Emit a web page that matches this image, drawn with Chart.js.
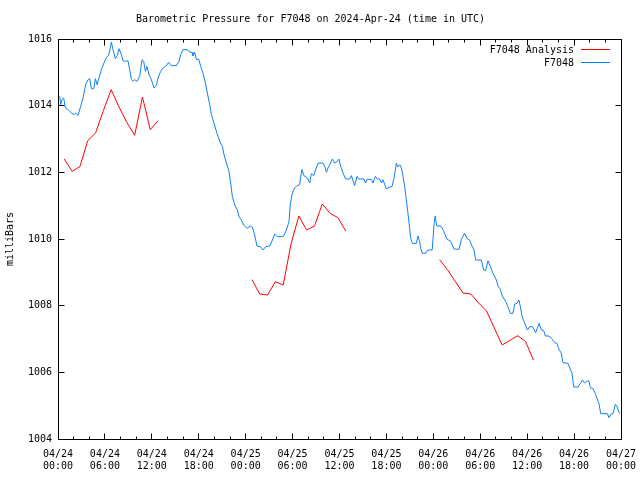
<!DOCTYPE html>
<html>
<head>
<meta charset="utf-8">
<script src="https://cdn.jsdelivr.net/npm/chart.js@4/dist/chart.umd.min.js"></script>
<style>
  html, body { margin: 0; padding: 0; background: #fff; }
  #wrap { width: 640px; height: 480px; }
</style>
</head>
<body>
<div id="wrap"><canvas id="pressureChart" width="640" height="480"></canvas></div>
<script>
// hours since 04/24 00:00 UTC
var blueHours = [0.22,0.35,0.51,0.73,0.95,1.28,1.71,2.05,2.26,2.56,2.90,3.20,3.54,3.84,4.05,4.27,4.57,4.78,4.99,5.24,
  5.55,5.88,6.19,6.48,6.70,6.83,7.03,7.34,7.60,7.80,8.11,8.31,8.62,8.95,9.17,9.39,9.59,9.81,10.10,10.45,
  10.74,10.96,11.18,11.38,11.64,11.94,12.28,12.58,12.79,13.13,13.43,13.77,14.16,14.50,15.14,15.47,15.69,15.98,16.50,16.84,
  17.14,17.26,17.48,17.70,17.99,18.25,18.54,18.85,19.10,19.40,19.62,19.82,20.13,20.46,20.77,21.02,21.23,21.53,21.87,22.08,
  22.30,22.60,22.94,23.15,23.45,23.75,24.17,24.60,24.86,25.15,25.45,25.88,26.21,26.56,27.07,27.42,27.71,28.06,28.57,28.86,
  29.21,29.54,29.72,29.97,30.27,30.56,30.91,31.04,31.20,31.46,31.89,32.19,32.40,32.70,32.95,33.25,33.89,34.11,34.32,34.53,
  34.75,35.09,35.38,35.73,35.93,36.15,36.45,36.79,37.30,37.52,37.94,38.24,38.45,39.13,39.31,39.56,40.08,40.28,40.59,40.84,
  41.14,41.36,41.56,41.99,42.42,42.71,42.97,43.15,43.27,43.48,43.70,43.91,44.12,44.34,44.55,44.76,44.97,45.10,45.32,45.83,
  46.04,46.26,46.38,46.60,47.02,47.31,47.85,47.98,48.11,48.24,48.43,49.00,49.32,49.71,50.22,50.65,51.29,51.59,52.00,52.30,
  52.64,52.99,53.20,53.41,54.14,54.44,54.69,54.99,55.29,55.63,56.06,56.27,56.57,56.83,57.25,57.54,57.85,58.18,58.40,58.70,
  58.95,59.13,59.34,59.69,60.03,60.32,60.67,61.09,61.52,61.82,62.12,62.33,62.79,63.10,63.52,63.81,64.07,64.37,64.58,65.22,
  65.56,65.73,65.95,66.50,66.80,67.06,67.35,67.65,67.90,68.08,68.41,68.71,68.93,69.18,69.40,70.26,70.47,70.68,70.97,71.28,
  71.48,71.73,71.86];
var bluePressure = [1014.28,1014.03,1014.18,1014.23,1013.93,1013.88,1013.78,1013.73,1013.78,1013.71,1013.98,1014.23,1014.63,1014.78,1014.81,1014.51,1014.51,1014.81,1014.63,1014.83,
  1015.08,1015.28,1015.45,1015.51,1015.75,1015.91,1015.68,1015.41,1015.51,1015.71,1015.53,1015.35,1015.33,1015.35,1015.08,1014.78,1014.73,1014.78,1014.73,1014.88,
  1015.38,1015.33,1015.03,1015.18,1014.93,1014.78,1014.53,1014.61,1014.83,1015.03,1015.13,1015.18,1015.30,1015.20,1015.20,1015.33,1015.53,1015.68,1015.68,1015.61,
  1015.60,1015.50,1015.60,1015.38,1015.40,1015.18,1014.98,1014.68,1014.38,1014.03,1013.73,1013.58,1013.33,1013.08,1012.88,1012.78,1012.53,1012.28,1012.03,1011.68,
  1011.27,1011.02,1010.87,1010.67,1010.57,1010.42,1010.32,1010.39,1010.35,1010.12,1009.79,1009.77,1009.67,1009.77,1009.79,1009.97,1010.15,1010.07,1010.07,1010.09,
  1010.27,1010.52,1011.07,1011.38,1011.53,1011.60,1011.63,1011.88,1012.08,1011.90,1011.83,1011.68,1011.96,1011.90,1012.08,1012.28,1012.28,1012.18,1012.00,1012.13,
  1012.23,1012.40,1012.28,1012.33,1012.40,1012.18,1011.98,1011.80,1011.80,1011.90,1011.60,1011.88,1011.80,1011.80,1011.68,1011.80,1011.78,1011.68,1011.88,1011.80,
  1011.80,1011.68,1011.78,1011.50,1011.56,1011.57,1011.83,1012.08,1012.28,1012.16,1012.23,1012.13,1011.88,1011.57,1011.17,1010.77,1010.32,1010.02,1009.87,1009.87,
  1010.09,1009.92,1009.72,1009.57,1009.57,1009.67,1009.67,1010.07,1010.49,1010.69,1010.40,1010.38,1010.25,1010.00,1009.93,1009.70,1009.69,1009.99,1010.17,1010.02,
  1009.97,1009.77,1009.67,1009.37,1009.37,1009.07,1009.05,1009.35,1009.17,1008.97,1008.77,1008.59,1008.49,1008.29,1008.12,1007.97,1007.77,1007.77,1008.05,1008.07,
  1008.17,1007.97,1007.69,1007.47,1007.27,1007.37,1007.37,1007.19,1007.47,1007.27,1007.25,1007.09,1007.09,1007.02,1006.89,1006.87,1006.69,1006.57,1006.29,1006.27,
  1006.07,1005.98,1005.56,1005.56,1005.67,1005.77,1005.68,1005.74,1005.74,1005.54,1005.51,1005.37,1005.22,1005.07,1004.76,1004.76,1004.64,1004.74,1004.76,1005.04,
  1004.98,1004.81,1004.76];

// analysis runs, null marks the gap between runs
var redHours = [0.8,1.8,2.8,3.8,4.8,5.8,6.8,7.8,8.8,9.8,10.8,11.8,12.8, 18,
  24.8,25.8,26.8,27.8,28.8,29.8,30.8,31.8,32.8,33.8,34.8,35.8,36.8, 42,
  48.8,49.8,50.8,51.8,52.8,53.8,54.8,55.8,56.8,57.8,58.8,59.8,60.8];
var redPressure = [1012.40,1012.03,1012.17,1012.95,1013.18,1013.85,1014.48,1013.96,1013.50,1013.11,1014.26,1013.28,1013.55, null,
  1008.78,1008.35,1008.32,1008.72,1008.62,1009.85,1010.69,1010.27,1010.39,1011.05,1010.77,1010.64,1010.24, null,
  1009.38,1009.08,1008.73,1008.38,1008.35,1008.08,1007.84,1007.33,1006.82,1006.96,1007.10,1006.92,1006.37];

var tickDates = ['04/24','04/24','04/24','04/24','04/25','04/25','04/25','04/25','04/26','04/26','04/26','04/26','04/27'];
var tickTimes = ['00:00','06:00','12:00','18:00','00:00','06:00','12:00','18:00','00:00','06:00','12:00','18:00','00:00'];

var seriesNames = ['F7048 Analysis', 'F7048'];
var seriesColours = ['#ff0000', '#0f80f0'];

var monoFont = 'DejaVu Sans Mono';

function toPoints(xs, ys){
  var pts = [];
  for(var i = 0; i < xs.length; i++) pts.push({ x: xs[i], y: ys[i] });
  return pts;
}

// gnuplot style box with inward ticks + legend in the corner
var gnuFrame = {
  id: 'gnuFrame',
  afterDraw: function(chart){
    var ctx = chart.ctx;
    var a = chart.chartArea;
    var xs = chart.scales.x, ys = chart.scales.y;
    var L = Math.floor(a.left) + 0.5, R = Math.floor(a.right) + 0.5;
    var T = Math.floor(a.top) + 0.5, B = Math.floor(a.bottom) + 0.5;

    ctx.save();
    ctx.strokeStyle = '#000';
    ctx.lineWidth = 1;
    ctx.strokeRect(L, T, R - L, B - T);

    ctx.beginPath();
    for(var h = 2; h < 72; h += 2){
      var px = Math.floor(xs.getPixelForValue(h)) + 0.5;
      var len = (h % 6 === 0) ? 6 : 3;
      ctx.moveTo(px, B); ctx.lineTo(px, B - len);
      ctx.moveTo(px, T); ctx.lineTo(px, T + len);
    }
    for(var p = 1006; p < 1016; p += 2){
      var py = Math.floor(ys.getPixelForValue(p)) + 0.5;
      ctx.moveTo(L, py); ctx.lineTo(L + 6, py);
      ctx.moveTo(R, py); ctx.lineTo(R - 6, py);
    }
    ctx.stroke();

    ctx.font = '10px ' + monoFont;
    ctx.fillStyle = '#000';
    ctx.textAlign = 'right';
    ctx.textBaseline = 'middle';
    for(var i = 0; i < seriesNames.length; i++){
      var ly = 49 + i * 13;
      ctx.fillText(seriesNames[i], 574, ly + 1);
      ctx.strokeStyle = seriesColours[i];
      ctx.beginPath();
      ctx.moveTo(581, ly + 0.5); ctx.lineTo(610, ly + 0.5);
      ctx.stroke();
    }
    ctx.restore();
  }
};

document.addEventListener('DOMContentLoaded', function(){
  var ctx = document.getElementById('pressureChart').getContext('2d');
  new Chart(ctx, {
    type: 'line',
    data: {
      datasets: [
        { label: seriesNames[0], data: toPoints(redHours, redPressure),
          borderColor: seriesColours[0], borderWidth: 1, pointRadius: 0, tension: 0, spanGaps: false },
        { label: seriesNames[1], data: toPoints(blueHours, bluePressure),
          borderColor: seriesColours[1], borderWidth: 1, pointRadius: 0, tension: 0, spanGaps: false }
      ]
    },
    options: {
      responsive: false, animation: false,
      layout: { padding: { left: 0, right: 19, top: 0, bottom: 0 } },
      scales: {
        x: {
          type: 'linear', min: 0, max: 72,
          grid: { display: false, drawTicks: false }, border: { display: false },
          ticks: {
            stepSize: 6, autoSkip: false, maxRotation: 0, padding: 9,
            color: '#000', font: { family: monoFont, size: 10 },
            callback: function(v){ var i = Math.round(v / 6); return [tickDates[i], tickTimes[i]]; }
          },
          afterFit: function(s){ s.height = 41; s.paddingLeft = 0; s.paddingRight = 0; }
        },
        y: {
          min: 1004, max: 1016,
          grid: { display: false, drawTicks: false }, border: { display: false },
          ticks: {
            stepSize: 2, padding: 6, color: '#000', font: { family: monoFont, size: 10 },
            callback: function(v){ return String(v); }
          },
          title: { display: true, text: 'milliBars', color: '#000', font: { family: monoFont, size: 10 }, padding: { top: 4, bottom: 0 } },
          afterFit: function(s){ s.width = 58; s.paddingTop = 0; s.paddingBottom = 0; }
        }
      },
      plugins: {
        legend: { display: false },
        tooltip: { enabled: false },
        title: {
          display: true,
          text: 'Barometric Pressure for F7048 on 2024-Apr-24 (time in UTC)',
          color: '#000', font: { family: monoFont, size: 10, weight: 'normal' },
          padding: { top: 13, bottom: 14 }
        }
      }
    },
    plugins: [gnuFrame]
  });
});
</script>
</body>
</html>
